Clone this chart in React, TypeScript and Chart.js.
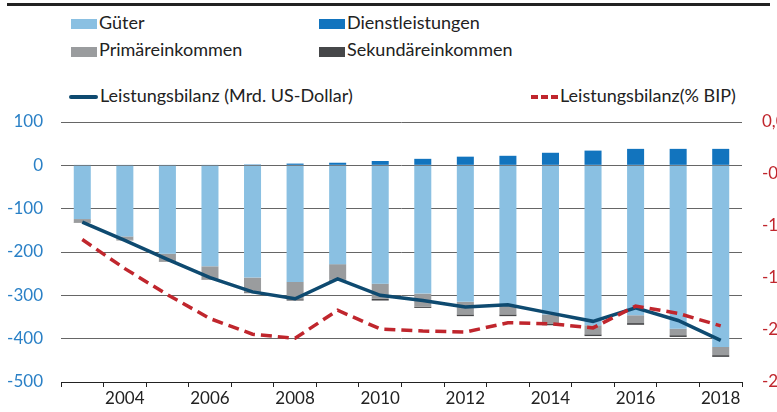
import React, { useEffect, useRef } from 'react';
import { Chart, registerables } from 'chart.js';

Chart.register(...registerables);

const years = ['2003', '2004', '2005', '2006', '2007', '2008', '2009', '2010', '2011', '2012', '2013', '2014', '2015', '2016', '2017', '2018'];
const gueter = [-124, -164, -204, -233, -259, -269, -228, -273, -296, -315, -322, -344, -369, -346, -377, -419];
const dienstleistungen = [1, 1, 1, 1, 2, 4, 6, 10, 15, 20, 22, 29, 34, 38, 38, 38];
const primaereinkommen = [-8, -8, -18, -30, -34, -40, -36, -35, -30, -29, -22, -21, -21, -18, -15, -19];
const sekundaereinkommen = [-1, -1, -1, -1, -2, -3, -2, -4, -3, -4, -4, -4, -4, -4, -4, -4];
const bilanzMrd = [-131, -173, -217, -259, -292, -308, -262, -300, -312, -327, -322, -341, -360, -329, -358, -404];
const bilanzBip = [-1.13, -1.41, -1.66, -1.89, -2.04, -2.08, -1.81, -1.99, -2.01, -2.02, -1.93, -1.94, -1.98, -1.77, -1.84, -1.96];

const labels = {
  gueter: 'Güter',
  dienst: 'Dienstleistungen',
  primaer: 'Primäreinkommen',
  sekundaer: 'Sekundäreinkommen',
  mrd: 'Leistungsbilanz (Mrd. US-Dollar)',
  bip: 'Leistungsbilanz(% BIP)',
};

const C_GUETER = '#8ac0e2';
const C_DIENST = '#1274be';
const C_PRIM = '#9a9c9e';
const C_SEK = '#464749';
const C_NAVY = '#0e4a70';
const C_RED = '#c0262d';
const FONT = 'Lato, "Open Sans", sans-serif';

const CW = 830;
const CH = 312;

export default function App() {
  const ref = useRef<HTMLCanvasElement | null>(null);

  useEffect(() => {
    if (!ref.current) return;
    const chart = new Chart(ref.current, {
      type: 'bar',
      data: {
        labels: years,
        datasets: [
          { type: 'line', label: labels.bip, data: bilanzBip, yAxisID: 'y1', borderColor: C_RED, backgroundColor: C_RED, borderWidth: 3.5, borderDash: [11, 6], pointRadius: 0, tension: 0, order: 0, stack: 'bip' },
          { type: 'line', label: labels.mrd, data: bilanzMrd, yAxisID: 'y', borderColor: C_NAVY, backgroundColor: C_NAVY, borderWidth: 3.5, pointRadius: 0, tension: 0, order: 1, stack: 'mrd' },
          { type: 'bar', label: labels.gueter, data: gueter, backgroundColor: C_GUETER, yAxisID: 'y', stack: 'bars', order: 2, categoryPercentage: 0.8, barPercentage: 0.5 },
          { type: 'bar', label: labels.dienst, data: dienstleistungen, backgroundColor: C_DIENST, yAxisID: 'y', stack: 'bars', order: 2, categoryPercentage: 0.8, barPercentage: 0.5 },
          { type: 'bar', label: labels.primaer, data: primaereinkommen, backgroundColor: C_PRIM, yAxisID: 'y', stack: 'bars', order: 2, categoryPercentage: 0.8, barPercentage: 0.5 },
          { type: 'bar', label: labels.sekundaer, data: sekundaereinkommen, backgroundColor: C_SEK, yAxisID: 'y', stack: 'bars', order: 2, categoryPercentage: 0.8, barPercentage: 0.5 },
        ] as any,
      },
      options: {
        responsive: false,
        animation: false,
        devicePixelRatio: 1,
        layout: { padding: { top: 22, left: 0, right: 0, bottom: 0 } },
        plugins: { legend: { display: false }, tooltip: { enabled: false } },
        scales: {
          x: {
            stacked: true,
            offset: true,
            grid: { display: true, drawOnChartArea: false, drawTicks: true, tickLength: 5, color: '#222', offset: true },
            border: { display: true, color: '#222', width: 1 },
            ticks: {
              autoSkip: false,
              maxRotation: 0,
              padding: 1,
              color: '#222',
              font: { family: FONT, size: 17 },
              callback: (v: any, i: number) => (Number(years[i]) % 2 === 0 ? years[i] : ''),
            },
            afterFit: (s: any) => { s.height = 30; },
          },
          y: {
            stacked: true,
            position: 'left',
            min: -500,
            max: 100,
            ticks: { stepSize: 100, padding: 18, color: '#2a80c6', font: { family: FONT, size: 17 } },
            grid: { color: '#666', lineWidth: 1, drawTicks: false },
            border: { display: false },
            afterFit: (s: any) => { s.width = 61; s.paddingTop = 0; s.paddingBottom = 0; },
          },
          y1: {
            position: 'right',
            min: -2.5,
            max: 0,
            ticks: {
              stepSize: 0.5,
              padding: 20,
              color: C_RED,
              font: { family: FONT, size: 17 },
              callback: (v: any) => Number(v).toFixed(1).replace('.', ',').replace('-0,0', '0,0'),
            },
            grid: { display: false, drawTicks: false },
            border: { display: false },
            afterFit: (s: any) => { s.width = CW - 742; s.paddingTop = 0; s.paddingBottom = 0; },
          },
        },
      } as any,
    });
    return () => chart.destroy();
  }, []);

  const text: React.CSSProperties = { position: 'absolute', fontFamily: FONT, fontSize: 18, lineHeight: '18px', color: '#222', whiteSpace: 'nowrap' };
  const sw = (left: number, top: number, color: string): React.CSSProperties => ({ position: 'absolute', left, top, width: 26, height: 10, background: color });

  return (
    <div style={{ position: 'fixed', left: 0, top: 0, width: 777, height: 412, overflow: 'hidden', background: '#fff' }}>
      <div style={{ position: 'absolute', left: 7, top: 3, width: 763, height: 3, background: '#222' }} />
      <div style={sw(71, 19, C_GUETER)} />
      <div style={{ ...text, left: 99, top: 13 }}>{labels.gueter}</div>
      <div style={sw(319, 19, C_DIENST)} />
      <div style={{ ...text, left: 347, top: 13 }}>{labels.dienst}</div>
      <div style={sw(71, 47, C_PRIM)} />
      <div style={{ ...text, left: 99, top: 40 }}>{labels.primaer}</div>
      <div style={sw(319, 47, C_SEK)} />
      <div style={{ ...text, left: 347, top: 40 }}>{labels.sekundaer}</div>
      <div style={{ position: 'absolute', left: 69, top: 95, width: 29, height: 4, borderRadius: 2, background: C_NAVY }} />
      <div style={{ ...text, left: 100, top: 86 }}>{labels.mrd}</div>
      <div style={{ position: 'absolute', left: 531, top: 95, width: 27, height: 4, background: `repeating-linear-gradient(90deg, ${C_RED} 0 7px, transparent 7px 10px)` }} />
      <div style={{ ...text, left: 560, top: 86 }}>{labels.bip}</div>
      <canvas ref={ref} width={CW} height={CH} style={{ position: 'absolute', left: 0, top: 100, width: CW, height: CH }} />
    </div>
  );
}
